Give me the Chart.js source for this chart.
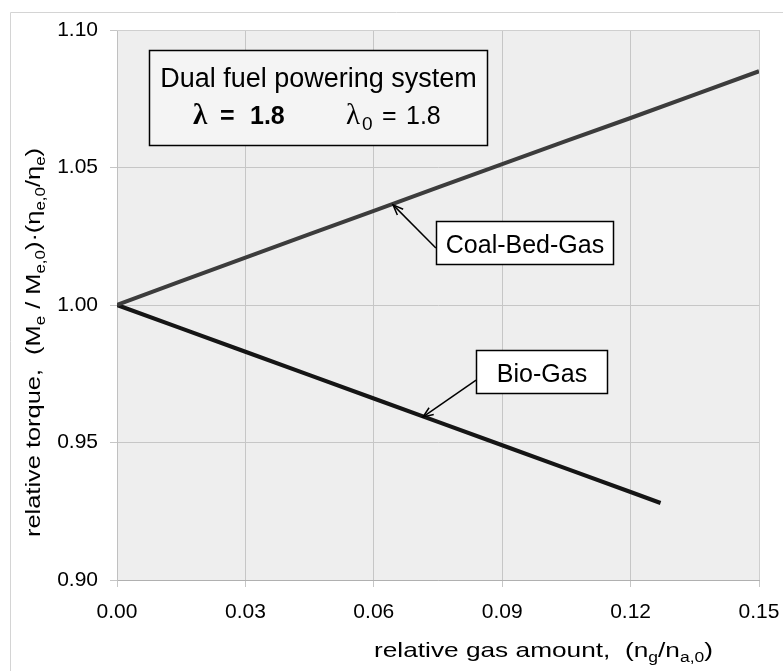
<!DOCTYPE html>
<html><head><meta charset="utf-8">
<script src="https://cdn.jsdelivr.net/npm/chart.js@4/dist/chart.umd.min.js"></script>
<style>html,body{margin:0;padding:0;background:#fff}canvas{display:block}</style>
</head><body>
<canvas id="c" width="783" height="671"></canvas>
<script>
// ---- data ----
const coalX = [0, 0.015, 0.03, 0.045, 0.06, 0.075, 0.09, 0.105, 0.12, 0.135, 0.15];
const coalY = [1.000, 1.0087, 1.0172, 1.0258, 1.0342, 1.0428, 1.0512, 1.0597, 1.068, 1.0765, 1.085];
const bioX = [0, 0.015, 0.03, 0.045, 0.06, 0.075, 0.09, 0.105, 0.12, 0.127];
const bioY = [1.000, 0.9915, 0.983, 0.9745, 0.966, 0.9575, 0.949, 0.9405, 0.932, 0.928];
const xTicks = [0, 0.03, 0.06, 0.09, 0.12, 0.15];
const yTicks = [0.90, 0.95, 1.00, 1.05, 1.10];
const seriesNames = ['Coal-Bed-Gas', 'Bio-Gas'];
const titleLine1 = 'Dual fuel powering system';

const FONT = '"Liberation Sans", Arial, sans-serif';

function pts(xs, ys) { return xs.map((x, i) => ({x: x, y: ys[i]})); }

const annot = {
  id: 'annot',
  beforeDraw(chart) {
    const ctx = chart.ctx, a = chart.chartArea;
    ctx.save();
    ctx.fillStyle = '#eeeeee';
    ctx.fillRect(a.left, a.top, a.right - a.left, a.bottom - a.top);
    ctx.strokeStyle = '#d4d4d4'; ctx.lineWidth = 1;
    ctx.beginPath(); ctx.moveTo(10.5, 671); ctx.lineTo(10.5, 12.5); ctx.lineTo(783, 12.5); ctx.stroke();
    ctx.restore();
  },
  afterDatasetsDraw(chart) {
    const ctx = chart.ctx, a = chart.chartArea;
    const xs = chart.scales.x, ys = chart.scales.y;
    const X = v => xs.getPixelForValue(v), Y = v => ys.getPixelForValue(v);
    ctx.save();
    ctx.strokeStyle = '#cfcfcf'; ctx.lineWidth = 1;
    ctx.beginPath();
    ctx.moveTo(a.left, a.top + 0.5); ctx.lineTo(a.right + 0.5, a.top + 0.5); ctx.lineTo(a.right + 0.5, a.bottom);
    ctx.stroke();

    function box(x1, y1, x2, y2, lw, col) {
      const l = Math.round(X(x1)) + 0.5, t = Math.round(Y(y1)) + 0.5;
      const r = Math.round(X(x2)) + 0.5, b = Math.round(Y(y2)) + 0.5;
      ctx.fillStyle = col; ctx.fillRect(l, t, r - l, b - t);
      ctx.strokeStyle = '#000'; ctx.lineWidth = lw; ctx.strokeRect(l, t, r - l, b - t);
      return {l, t, r, b};
    }
    function arrow(x0, y0, x1, y1) {
      const px0 = X(x0), py0 = Y(y0), px1 = X(x1), py1 = Y(y1);
      ctx.strokeStyle = '#000'; ctx.lineWidth = 1.5;
      ctx.beginPath(); ctx.moveTo(px0, py0); ctx.lineTo(px1, py1); ctx.stroke();
      const ang = Math.atan2(py1 - py0, px1 - px0), L = 11, w = 0.38;
      ctx.beginPath();
      ctx.moveTo(px1 - L * Math.cos(ang - w), py1 - L * Math.sin(ang - w));
      ctx.lineTo(px1, py1);
      ctx.lineTo(px1 - L * Math.cos(ang + w), py1 - L * Math.sin(ang + w));
      ctx.stroke();
    }
    // title box
    const tb = box(0.0075, 1.0927, 0.0864, 1.0582, 1.5, '#f4f4f4');
    ctx.fillStyle = '#000'; ctx.textBaseline = 'alphabetic';
    ctx.font = '27px ' + FONT; ctx.textAlign = 'center';
    ctx.fillText(titleLine1, (tb.l + tb.r) / 2, tb.t + 36);
    const by = tb.t + 73;
    ctx.textAlign = 'left';
    ctx.font = 'bold 29px "Liberation Serif", serif';
    ctx.fillText('λ', 193, by);
    ctx.font = 'bold 25px ' + FONT;
    ctx.fillText('=', 220, by);
    ctx.fillText('1.8', 250, by);
    ctx.font = '29px "Liberation Serif", serif';
    ctx.fillText('λ', 346, by);
    ctx.font = '19px ' + FONT;
    ctx.fillText('0', 362, by + 6);
    ctx.font = '25px ' + FONT;
    ctx.fillText('=', 382, by);
    ctx.fillText('1.8', 406, by);

    arrow(0.0745, 1.0207, 0.0645, 1.0364);
    const cb = box(0.0745, 1.0305, 0.1159, 1.0149, 1.5, '#ffffff');
    ctx.fillStyle = '#000'; ctx.font = '25px ' + FONT; ctx.textAlign = 'center';
    ctx.fillText(seriesNames[0], (cb.l + cb.r) / 2, cb.b - 12);
    arrow(0.0839, 0.9727, 0.0715, 0.9593);
    const bb = box(0.0839, 0.9836, 0.1145, 0.968, 1.5, '#ffffff');
    ctx.fillStyle = '#000'; ctx.font = '25px ' + FONT; ctx.textAlign = 'center';
    ctx.fillText(seriesNames[1], (bb.l + bb.r) / 2, bb.b - 12);

    function seqWidth(parts) {
      let w = 0;
      for (const p of parts) { ctx.font = (p.sub ? '14px ' : '21px ') + FONT; w += ctx.measureText(p.t).width; }
      return w;
    }
    function seq(parts, x, y, target) {
      const k = target / seqWidth(parts);
      ctx.save(); ctx.translate(x, y); ctx.scale(k, 1);
      let cx = 0;
      for (const p of parts) {
        ctx.font = (p.sub ? '14px ' : '21px ') + FONT;
        ctx.fillText(p.t, cx, p.sub ? 5 : 0);
        cx += ctx.measureText(p.t).width;
      }
      ctx.restore();
    }
    ctx.textAlign = 'left'; ctx.fillStyle = '#000';
    seq([{t: 'relative gas amount,  (n'}, {t: 'g', sub: 1}, {t: '/n'}, {t: 'a,0', sub: 1}, {t: ')'}], 374, 657, 339);
    ctx.save();
    ctx.translate(40, 537);
    ctx.rotate(-Math.PI / 2);
    seq([{t: 'relative torque,  (M'}, {t: 'e', sub: 1}, {t: ' / M'}, {t: 'e,0', sub: 1}, {t: ')·(η'}, {t: 'e,0', sub: 1}, {t: '/η'}, {t: 'e', sub: 1}, {t: ')'}], 0, 0, 389);
    ctx.restore();
    ctx.restore();
  }
};

new Chart(document.getElementById('c'), {
  type: 'scatter',
  data: {
    datasets: [
      {label: seriesNames[0], data: pts(coalX, coalY), showLine: true, borderColor: '#3c3c3c', borderWidth: 4, pointRadius: 0, tension: 0},
      {label: seriesNames[1], data: pts(bioX, bioY), showLine: true, borderColor: '#151515', borderWidth: 4, pointRadius: 0, tension: 0}
    ]
  },
  options: {
    responsive: false, animation: false,
    layout: {padding: {top: 30, right: 24, left: 0, bottom: 0}},
    plugins: {legend: {display: false}, tooltip: {enabled: false}},
    scales: {
      x: {
        type: 'linear', min: 0, max: 0.15,
        afterBuildTicks: s => { s.ticks = xTicks.map(v => ({value: v})); },
        afterFit: s => { s.height = 91; s.paddingLeft = 0; s.paddingRight = 0; },
        ticks: {callback: v => Number(v).toFixed(2), font: {family: FONT, size: 21}, color: '#000', padding: 13, maxRotation: 0, autoSkip: false},
        grid: {color: '#c6c6c6', lineWidth: 1, tickLength: 7, drawTicks: true},
        border: {display: true, color: '#b0b0b0'}
      },
      y: {
        type: 'linear', min: 0.9, max: 1.1,
        afterBuildTicks: s => { s.ticks = yTicks.map(v => ({value: v})); },
        afterFit: s => { s.width = 117; s.paddingTop = 0; s.paddingBottom = 0; },
        ticks: {callback: v => Number(v).toFixed(2), font: {family: FONT, size: 21}, color: '#000', padding: 12, autoSkip: false},
        grid: {color: '#c6c6c6', lineWidth: 1, tickLength: 7, drawTicks: true},
        border: {display: true, color: '#c0c0c0'}
      }
    }
  },
  plugins: [annot]
});
</script>
</body></html>
